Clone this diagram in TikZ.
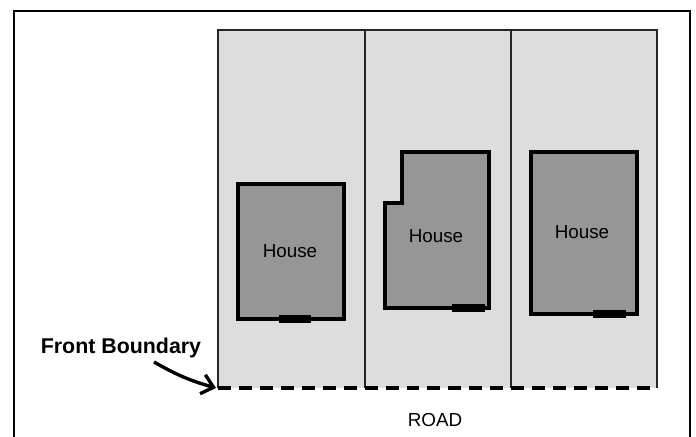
\documentclass[tikz,border=0pt]{standalone}
\usepackage{xcolor}
\usepackage{tikz}
\usepackage{fontspec}
\setmainfont{Liberation Sans}
\usetikzlibrary{arrows.meta, positioning}
\definecolor{lotgray}{RGB}{221,221,221}
\definecolor{housegray}{RGB}{150,150,150}

\begin{document}
\begin{tikzpicture}[
	lot/.style = {line width=1pt, draw=black!85},
	house/.style = {line width=2.4pt, fill=housegray, draw=black},
	door/.style = {fill=black},
	label/.style = {font=\fontsize{13.4}{16}\selectfont}
	]
	\useasboundingbox (0,0) rectangle (17.4,10.925);
	\draw [line width=1.4pt] (0.35,-0.3) -- (0.35,10.65) -- (17.25,10.65) -- (17.25,-0.3);
	\fill [lotgray] (5.45,1.225) rectangle (16.425,10.175);
	\draw [lot] (5.45,1.225) -- (5.45,10.175) -- (16.425,10.175) -- (16.425,1.225);
	\draw [lot] (9.125,1.225) -- (9.125,10.175);
	\draw [lot] (12.775,1.225) -- (12.775,10.175);
	\draw [line width=2.7pt, dash pattern=on 9.2pt off 5.7pt] (5.45,1.225) -- (16.425,1.225);
	\draw [house] (5.95,2.95) rectangle (8.6,6.325);
	\fill [door] (6.975,2.85) rectangle (7.775,3.05);
	\node [label] (houseA) at (7.25,4.65) {House};
	\draw [house] (9.625,3.225) -- (9.625,5.85) -- (10.05,5.85) -- (10.05,7.125) -- (12.225,7.125) -- (12.225,3.225) -- cycle;
	\fill [door] (11.3,3.125) rectangle (12.125,3.325);
	\node [label] (houseB) at (10.9,5.025) {House};
	\draw [house] (13.275,3.075) rectangle (15.925,7.125);
	\fill [door] (14.825,2.975) rectangle (15.65,3.175);
	\node [label] (houseC) at (14.55,5.125) {House};
	\node [font=\bfseries\fontsize{15.2}{18}\selectfont] (front) at (3.025,2.225) {Front Boundary};
	\coordinate (tail) at (3.85,1.875);
	\coordinate (corner) at (5.4,1.225);
	\draw [line width=2.4pt, -{Straight Barb[length=8pt,width=14pt]}] (tail) to [bend right=7] (corner);
	\node [label] (road) at (10.875,0.425) {ROAD};
\end{tikzpicture}
\end{document}
